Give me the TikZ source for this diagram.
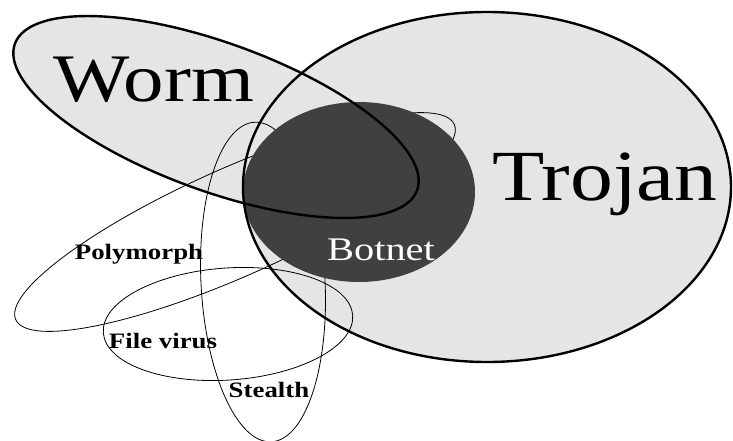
\documentclass[tikz,border=0pt]{standalone}
\usepackage{fontspec}
\setmainfont{Liberation Serif}
\definecolor{lightfill}{gray}{.90}
\definecolor{botfill}{gray}{.25}
\tikzset{
  bigset/.style={line width=2.4pt},
  smallset/.style={line width=.8pt},
  biglabel/.style={anchor=base,inner sep=0pt,xscale=1.19},
  smalllabel/.style={anchor=base,inner sep=0pt,xscale=1.22,font=\fontsize{22}{22}\selectfont\bfseries}
}
\begin{document}
\begin{tikzpicture}[x=1pt,y=-1pt]
\useasboundingbox (0,0) rectangle (733,441);
% fills
\fill[lightfill] (487,187) ellipse [x radius=244pt,y radius=175pt];
\fill[lightfill,rotate around={-20:(216,117)}] (216,117) ellipse [x radius=214pt,y radius=74pt];
% thin sets
\draw[smallset,rotate around={24:(235,222)}] (235,222) ellipse [x radius=240pt,y radius=54pt];
\draw[smallset,rotate around={4:(228,324)}] (228,324) ellipse [x radius=125pt,y radius=56pt];
\draw[smallset,rotate around={3:(263,282)}] (263,282) ellipse [x radius=62pt,y radius=160pt];
% botnet on top of the thin sets
\fill[botfill] (359,192) ellipse [x radius=116pt,y radius=90pt];
% thick sets
\draw[bigset,rotate around={-20:(216,117)}] (216,117) ellipse [x radius=214pt,y radius=74pt];
\draw[bigset] (487,187) ellipse [x radius=244pt,y radius=175pt];
% labels
\node[biglabel,font=\fontsize{68}{68}\selectfont] (worm) at (154,102) {Worm};
\node[biglabel,font=\fontsize{72}{72}\selectfont] (trojan) at (605,200) {Trojan};
\node[biglabel,text=white,xscale=1.03,font=\fontsize{33}{33}\selectfont] (botnet) at (381,260) {Botnet};
\node[smalllabel] (poly) at (139,259) {Polymorph};
\node[smalllabel] (filevirus) at (163,348) {File virus};
\node[smalllabel] (stealth) at (269,397) {Stealth};
\end{tikzpicture}
\end{document}
